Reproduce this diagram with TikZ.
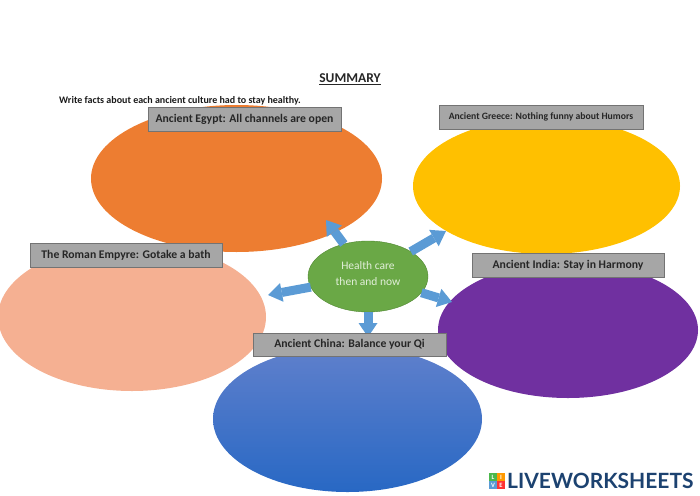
\documentclass[tikz,border=0pt]{standalone}
\usepackage{fontspec}
\setmainfont{Carlito}
\newfontfamily\logofont{Lato}
\usetikzlibrary{arrows.meta,shapes.geometric}
\definecolor{egyptcol}{RGB}{237,125,49}
\definecolor{greececol}{RGB}{255,192,0}
\definecolor{romecol}{RGB}{245,176,146}
\definecolor{indiacol}{RGB}{112,48,160}
\definecolor{chinatop}{RGB}{96,128,204}
\definecolor{chinabot}{RGB}{40,104,196}
\definecolor{healthcol}{RGB}{106,168,70}
\definecolor{healthline}{RGB}{80,135,50}
\definecolor{healthtext}{RGB}{226,239,218}
\definecolor{arrowcol}{RGB}{91,155,213}
\definecolor{logocol}{RGB}{28,66,112}
\tikzset{
  blob/.style={ellipse,inner sep=0pt,outer sep=0pt},
  caption/.style={draw=black!55,line width=0.7pt,fill=black!35,inner sep=0pt,outer sep=0pt,
    text=black!85,font=\fontsize{11.7}{13}\selectfont\bfseries},
  tile/.style={inner sep=0pt,outer sep=0pt,minimum size=7.6pt,text=white,
    font=\fontsize{6.5}{7}\selectfont\bfseries}
}
\begin{document}
\begin{tikzpicture}[x=1pt,y=-1pt,>={Triangle[width=19pt,length=14pt,line width=0pt]}]
  \useasboundingbox (0,0) rectangle (700,495);

  \node[font=\fontsize{13.5}{15}\selectfont\bfseries,text=black!85] (title) at (350,79) {\underline{SUMMARY}};
  \node[font=\fontsize{10}{12}\selectfont\bfseries,text=black!90,anchor=west,inner sep=0pt] (task) at (59,101)
    {Write facts about each ancient culture had to stay healthy.};

  \node[blob,fill=egyptcol,minimum width=291pt,minimum height=147pt] (egypt)  at (236.5,178.5) {};
  \node[blob,fill=greececol,minimum width=267pt,minimum height=136pt] (greece) at (546.5,186) {};
  \node[blob,fill=romecol,minimum width=268pt,minimum height=148pt] (rome)   at (132,317) {};
  \node[blob,fill=indiacol,minimum width=260pt,minimum height=136pt] (india)  at (568,330) {};
  \node[blob,top color=chinatop,bottom color=chinabot,minimum width=269pt,minimum height=146pt] (china)  at (347.5,419) {};
  \node[blob,fill=healthcol,draw=healthline,minimum width=120pt,minimum height=71pt] (health) at (368,276.5) {};
  \node[align=center,text=healthtext,font=\fontsize{11.5}{15.5}\selectfont,yshift=3pt] (healthlabel) at (health) {Health care\\then and now};

  \coordinate (toegypt)  at (326,220);
  \coordinate (togreece) at (446,231);
  \coordinate (toindia)  at (452,302);
  \coordinate (tochina)  at (368,337);
  \coordinate (torome)   at (268,295);

  \path[->,color=arrowcol,draw,line width=9pt]
    (health) edge (toegypt)
    (health) edge (togreece)
    (health) edge (toindia)
    (health) edge (tochina)
    (health) edge (torome);

  \node[caption,minimum width=193pt,minimum height=24pt] (egyptcap)  at (244.5,119)  {Ancient Egypt: All channels are open};
  \node[caption,minimum width=204pt,minimum height=24pt,font=\fontsize{9.7}{11}\selectfont\bfseries] (greececap) at (541,117) {Ancient Greece: Nothing funny about Humors};
  \node[caption,minimum width=192pt,minimum height=24pt] (romecap)   at (126,255.5)  {The Roman Empyre: Gotake a bath};
  \node[caption,minimum width=192pt,minimum height=24pt] (indiacap)  at (568,265)    {Ancient India: Stay in Harmony};
  \node[caption,minimum width=193pt,minimum height=23pt] (chinacap)  at (349.5,344.5) {Ancient China: Balance your Qi};

  \node[tile,fill=green!60!black!70] (tilel) at (493,477) {L};
  \node[tile,fill=orange!80!yellow]  (tilei) at (501,477) {I};
  \node[tile,fill=arrowcol]          (tilev) at (493,485) {V};
  \node[tile,fill=red!80]            (tilee) at (501,485) {E};
  \node[anchor=west,inner sep=0pt,font=\logofont\fontsize{21}{23}\selectfont\bfseries,
        text=logocol] (logo) at (507,481) {LIVEWORKSHEETS};
\end{tikzpicture}
\end{document}
